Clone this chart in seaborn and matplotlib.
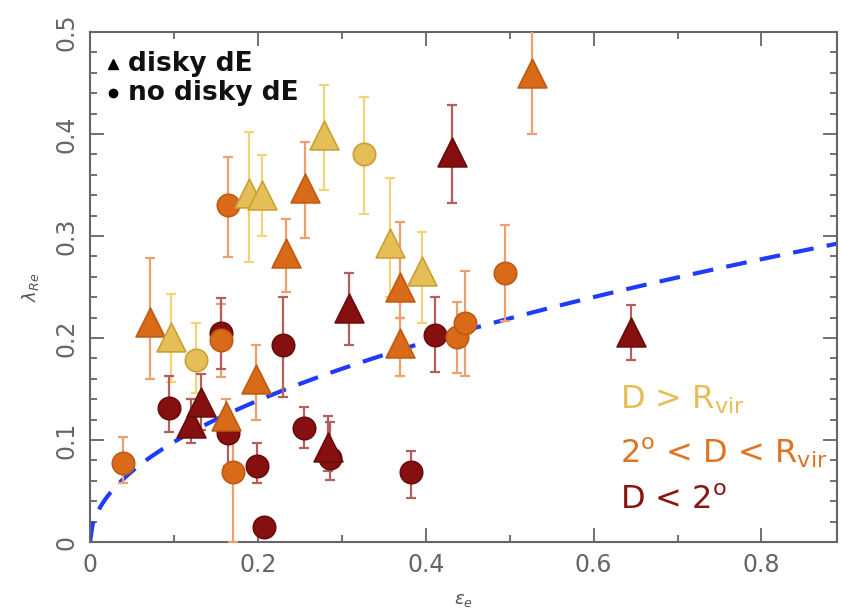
import numpy as np
import pandas as pd
import matplotlib
matplotlib.use("Agg")
import matplotlib.pyplot as plt
import seaborn as sns

# ---- data ----
# group: Y = D > Rvir, O = 2deg < D < Rvir, R = D < 2deg ; morph: T = disky dE, C = no disky dE
group = (["Y"] * 8) + (["O"] * 15) + (["R"] * 16)
morph = ["T", "C", "T", "T", "T", "C", "T", "T",
         "C", "T", "C", "C", "T", "C", "T", "T", "T", "T", "T", "C", "C", "C", "T",
         "C", "T", "T", "C", "C", "C", "C", "C", "C", "T", "C", "T", "C", "C", "T", "T"]
eps = [0.097, 0.126, 0.190, 0.205, 0.279, 0.326, 0.358, 0.396,
       0.039, 0.072, 0.156, 0.165, 0.162, 0.170, 0.198, 0.234, 0.256, 0.369, 0.369, 0.437, 0.447, 0.495, 0.527,
       0.094, 0.120, 0.132, 0.156, 0.165, 0.199, 0.207, 0.230, 0.255, 0.284, 0.286, 0.308, 0.382, 0.411, 0.431, 0.644]
lam = [0.201, 0.178, 0.342, 0.340, 0.399, 0.380, 0.293, 0.266,
       0.077, 0.216, 0.198, 0.330, 0.124, 0.069, 0.160, 0.283, 0.347, 0.250, 0.195, 0.201, 0.215, 0.264, 0.460,
       0.131, 0.117, 0.137, 0.205, 0.107, 0.075, 0.015, 0.193, 0.112, 0.093, 0.082, 0.229, 0.069, 0.203, 0.382, 0.206]
lam_lo = [0.157, 0.146, 0.275, 0.300, 0.345, 0.322, 0.240, 0.215,
          0.058, 0.160, 0.162, 0.279, 0.105, 0.000, 0.120, 0.245, 0.298, 0.220, 0.163, 0.166, 0.163, 0.217, 0.400,
          0.108, 0.097, 0.110, 0.170, 0.075, 0.058, 0.008, 0.142, 0.092, 0.070, 0.061, 0.193, 0.043, 0.167, 0.332, 0.178]
lam_hi = [0.243, 0.215, 0.402, 0.379, 0.448, 0.436, 0.357, 0.304,
          0.103, 0.278, 0.233, 0.377, 0.140, 0.100, 0.193, 0.317, 0.392, 0.314, 0.220, 0.235, 0.266, 0.311, 0.520,
          0.163, 0.140, 0.165, 0.239, 0.124, 0.097, 0.022, 0.240, 0.132, 0.124, 0.118, 0.264, 0.089, 0.240, 0.428, 0.232]

# slow/fast rotator boundary lambda = k * sqrt(eps)
boundary_k = 0.31

df = pd.DataFrame({"eps": eps, "lam": lam, "lo": lam_lo, "hi": lam_hi,
                   "grp": group, "morph": morph})

face = {"Y": "#E6BE58", "O": "#D96B18", "R": "#85100F"}
edge = {"Y": "#C9A032", "O": "#BF5A12", "R": "#6A0B0B"}
ecol = {"Y": "#F0D47A", "O": "#EBA070", "R": "#B45E5E"}
tcol = {"Y": "#E6BE58", "O": "#DC7424", "R": "#8A1414"}

sns.set_style("ticks")
plt.rcParams["font.family"] = ["DejaVu Sans"]

fig = plt.figure(figsize=(8.41, 6.10), dpi=100)
ax = fig.add_axes([90 / 841, 68 / 610, 747 / 841, 510 / 610])

# boundary curve
xc = np.linspace(0, 0.89, 300)
ax.plot(xc, boundary_k * np.sqrt(xc), ls=(0, (5, 3.2)), color="#1F3BFF", lw=3.0, zorder=2)

# error bars
for g in ["Y", "O", "R"]:
    sub = df[df["grp"] == g]
    yerr = np.vstack([sub["lam"] - sub["lo"], sub["hi"] - sub["lam"]])
    ax.errorbar(sub["eps"], sub["lam"], yerr=yerr, fmt="none", ecolor=ecol[g],
                elinewidth=1.6, capsize=3.6, capthick=1.6, zorder=3)

# markers
for shp, mk, sz in [("C", "o", 260), ("T", "^", 430)]:
    for g in ["R", "O", "Y"]:
        sub = df[(df["morph"] == shp) & (df["grp"] == g)]
        sns.scatterplot(data=sub, x="eps", y="lam", marker=mk, s=sz,
                        color=face[g], edgecolor=edge[g], linewidth=1.2,
                        legend=False, ax=ax, zorder=4)

ax.set_xlim(0, 0.89)
ax.set_ylim(0, 0.5)
ax.set_xticks([0, 0.2, 0.4, 0.6, 0.8])
ax.set_xticklabels(["0", "0.2", "0.4", "0.6", "0.8"])
ax.set_xticks(np.arange(0.1, 0.9, 0.2), minor=True)
ax.set_yticks([0, 0.1, 0.2, 0.3, 0.4, 0.5])
ax.set_yticklabels(["0", "0.1", "0.2", "0.3", "0.4", "0.5"], rotation=90, va="center")
ax.set_yticks(np.arange(0.02, 0.5, 0.02), minor=True)
ax.tick_params(which="both", direction="in", top=True, right=True, color="#666666", width=1.3)
ax.tick_params(which="major", length=10, labelsize=17, labelcolor="#666666", pad=8)
ax.tick_params(which="minor", length=5)
for sp in ax.spines.values():
    sp.set_color("#666666")
    sp.set_linewidth(1.5)

ax.set_xlabel(r"$\epsilon_e$", fontsize=13, color="#555555", labelpad=10)
ax.set_ylabel(r"$\lambda_{Re}$", fontsize=13, color="#555555", labelpad=10)

# legend for shapes
ax.plot([0.027], [0.469], marker="^", color="black", ms=7, clip_on=False)
ax.plot([0.027], [0.440], marker="o", color="black", ms=6, clip_on=False)
ax.text(0.045, 0.469, "disky dE", fontsize=19, fontweight="bold", color="#111111", va="center")
ax.text(0.045, 0.440, "no disky dE", fontsize=19, fontweight="bold", color="#111111", va="center")

# group labels
ax.text(0.632, 0.139, r"D > R$_{\rm vir}$", fontsize=23, color=tcol["Y"], va="center")
ax.text(0.632, 0.088, r"2$^{\rm o}$ < D < R$_{\rm vir}$", fontsize=23, color=tcol["O"], va="center")
ax.text(0.632, 0.041, r"D < 2$^{\rm o}$", fontsize=23, color=tcol["R"], va="center")

fig.savefig("out.png", dpi=100)
